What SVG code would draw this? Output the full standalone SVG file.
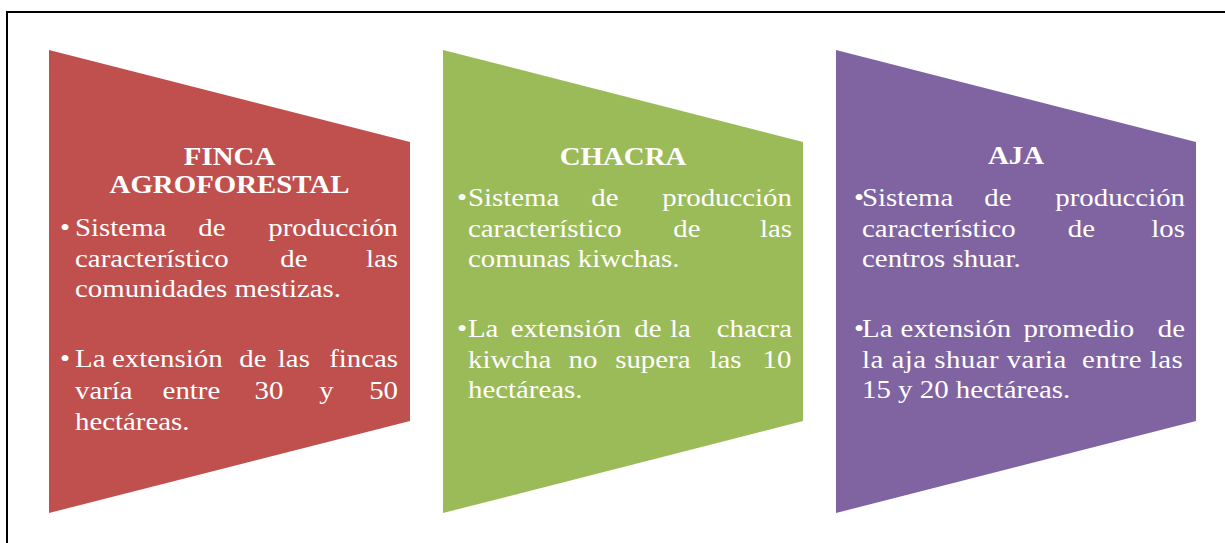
<svg xmlns="http://www.w3.org/2000/svg" width="1225" height="543" viewBox="0 0 1225 543">
<style>
.t{font-family:"Liberation Serif","Times New Roman",serif;fill:#fff;font-size:26px}
.h{font-weight:bold;text-anchor:middle}
.p{white-space:pre}
.m{text-anchor:middle}
.e{text-anchor:end}
</style>
<rect width="1225" height="543" fill="#fff"/>
<path d="M7,543 V12 H1225" fill="none" stroke="#000" stroke-width="2"/>
<g id="connectors"/>
<g id="finca">
<polygon points="49,50 410,142 410,421 49,513" fill="#C0504D"/>
<g transform="scale(1.11 1)">
<text class="t h" x="206.8" y="165">FINCA</text>
<text class="t h" x="206.8" y="193">AGROFORESTAL</text>
<text class="t" x="54" y="236">•</text>
<text class="t" y="236"><tspan x="67.6">Sistema</tspan> <tspan class="m" x="194.1">de</tspan> <tspan class="e" x="358.6">producción</tspan></text>
<text class="t" y="267"><tspan x="67.6">característico</tspan> <tspan class="m" x="268">de</tspan> <tspan class="e" x="358.6">las</tspan></text>
<text class="t" x="67.6" y="297">comunidades mestizas.</text>
<text class="t" x="54" y="367">•</text>
<text class="t" y="367"><tspan x="67.6">La</tspan> <tspan class="m" x="154">extensión</tspan> <tspan class="m" x="231.1">de</tspan> <tspan class="m" x="268">las</tspan> <tspan class="e" x="358.6">fincas</tspan></text>
<text class="t" y="399"><tspan x="67.6">varía</tspan> <tspan class="m" x="175.7">entre</tspan> <tspan class="m" x="245.5">30</tspan> <tspan class="m" x="297.3">y</tspan> <tspan class="e" x="358.6">50</tspan></text>
<text class="t" x="67.6" y="430">hectáreas.</text>
</g>
</g>
<g id="chacra">
<polygon points="443,50 803,142 803,421 443,513" fill="#9BBB59"/>
<g transform="scale(1.11 1)">
<text class="t h" x="561.3" y="165">CHACRA</text>
<text class="t" x="411.7" y="206">•</text>
<text class="t" y="206"><tspan x="421.6">Sistema</tspan> <tspan class="m" x="548.2">de</tspan> <tspan class="e" x="713.5">producción</tspan></text>
<text class="t" y="237"><tspan x="421.6">característico</tspan> <tspan class="m" x="622.1">de</tspan> <tspan class="e" x="713.5">las</tspan></text>
<text class="t" x="421.6" y="267">comunas kiwchas.</text>
<text class="t" x="411.7" y="337">•</text>
<text class="t" y="337"><tspan x="421.6">La</tspan> <tspan class="m" x="513.1">extensión</tspan> <tspan class="m" x="586.9">de</tspan> <tspan class="m" x="616.2">la</tspan> <tspan class="e" x="713.5">chacra</tspan></text>
<text class="t" y="368"><tspan x="421.6">kiwcha</tspan> <tspan class="m" x="528.4">no</tspan> <tspan class="m" x="591.4">supera</tspan> <tspan class="m" x="656.8">las</tspan> <tspan class="e" x="713">10</tspan></text>
<text class="t" x="421.6" y="398">hectáreas.</text>
</g>
</g>
<g id="aja">
<polygon points="836,50 1196,142 1196,421 836,513" fill="#8064A2"/>
<g transform="scale(1.11 1)">
<text class="t h" x="915.3" y="164">AJA</text>
<text class="t" x="769.4" y="206">•</text>
<text class="t" y="206"><tspan x="776.6">Sistema</tspan> <tspan class="m" x="902.3">de</tspan> <tspan class="e" x="1067.6">producción</tspan></text>
<text class="t" y="237"><tspan x="776.6">característico</tspan> <tspan class="m" x="977.5">de</tspan> <tspan class="e" x="1067.6">los</tspan></text>
<text class="t" x="776.6" y="267">centros shuar.</text>
<text class="t" x="769.4" y="337">•</text>
<text class="t" y="337"><tspan x="776.6">La</tspan> <tspan class="m" x="864.4">extensión</tspan> <tspan class="m" x="975.2">promedio</tspan> <tspan class="e" x="1067.6">de</tspan></text>
<text class="t p" x="776.6" y="368" textLength="289" lengthAdjust="spacing">la aja shuar varia  entre las</text>
<text class="t" x="776.6" y="398">15 y 20 hectáreas.</text>
</g>
</g>
</svg>
